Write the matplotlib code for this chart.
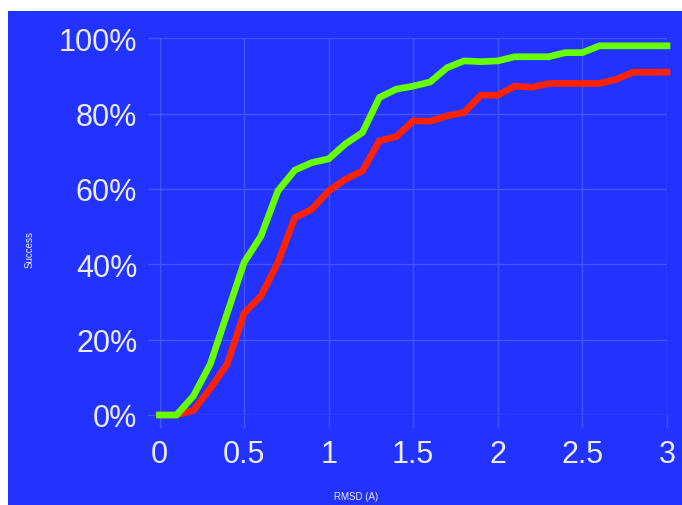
import matplotlib
matplotlib.use("Agg")
import matplotlib.pyplot as plt
from matplotlib.patches import Rectangle
from matplotlib.ticker import FuncFormatter

rmsd = [0.0, 0.1, 0.2, 0.3, 0.4, 0.5, 0.6, 0.7, 0.8, 0.9, 1.0,
        1.1, 1.2, 1.3, 1.4, 1.5, 1.6, 1.7, 1.8, 1.9, 2.0,
        2.1, 2.2, 2.3, 2.4, 2.5, 2.6, 2.7, 2.8, 2.9, 3.0]
green_success = [0, 0, 5, 13.5, 27, 40.5, 47.5, 59.5, 65, 67, 68,
                 72, 75, 84.3, 86.5, 87.3, 88.4, 92.2, 94, 93.8, 94,
                 95.1, 95.1, 95.1, 96.2, 96.2, 98, 98, 98, 98, 98]
red_success = [0, 0, 1.2, 7, 13.5, 27, 31.6, 40.5, 52.4, 54.6, 59.5,
               62.6, 64.8, 72.8, 73.9, 78.1, 78, 79.4, 80.3, 84.9, 84.9,
               87.3, 87, 88, 88, 88, 88, 89.1, 91, 91, 91]
x_ticks = [0, 0.5, 1, 1.5, 2, 2.5, 3]
y_ticks = [0, 20, 40, 60, 80, 100]

BLUE = "#2233ff"
GRID = "#4555ff"
TEXT = "#ececf6"

W, H = 682, 506
fig = plt.figure(figsize=(W / 100, H / 100), dpi=100, facecolor="white")
bg = Rectangle((8 / W, 0), 1 - 8 / W, 1 - 12 / H,
               transform=fig.transFigure, facecolor=BLUE,
               edgecolor="none", zorder=-10)
fig.patches.append(bg)

ax = fig.add_axes([159.5 / W, (H - 416) / H, (667 - 159.5) / W, (416 - 39.3) / H])
ax.set_zorder(1)
ax.set_facecolor(BLUE)
for s in ax.spines.values():
    s.set_visible(False)

ax.plot(rmsd, red_success, color="#ff2200", lw=4.8, solid_joinstyle="miter", zorder=3, clip_on=False)
ax.plot(rmsd, green_success, color="#66ff00", lw=4.8, solid_joinstyle="miter", zorder=4, clip_on=False)

ax.set_xlim(0, 3)
ax.set_ylim(0, 100)
ax.set_xticks(x_ticks)
ax.set_yticks(y_ticks)
ax.xaxis.set_major_formatter(FuncFormatter(lambda v, p: f"{v:g}"))
ax.yaxis.set_major_formatter(FuncFormatter(lambda v, p: f"{v:g}%"))
ax.grid(True, color=GRID, lw=1.0, zorder=1)
ax.set_axisbelow(True)
ax.tick_params(axis="both", colors=GRID, labelcolor=TEXT, labelsize=22,
               length=9, width=1.0)
ax.tick_params(axis="y", pad=7)
ax.tick_params(axis="x", pad=8)
for lbl in ax.get_xticklabels() + ax.get_yticklabels():
    lbl.set_fontfamily("Liberation Sans")

fig.text(30 / W, 1 - 250 / H, "Success", rotation=90, color=TEXT, fontsize=7,
         ha="center", va="center", family="Liberation Sans", zorder=5)
fig.text(356 / W, 1 - 497 / H, "RMSD (A)", color=TEXT, fontsize=7,
         ha="center", va="center", family="Liberation Sans", zorder=5)

fig.savefig("out.png", dpi=100, facecolor="white")
